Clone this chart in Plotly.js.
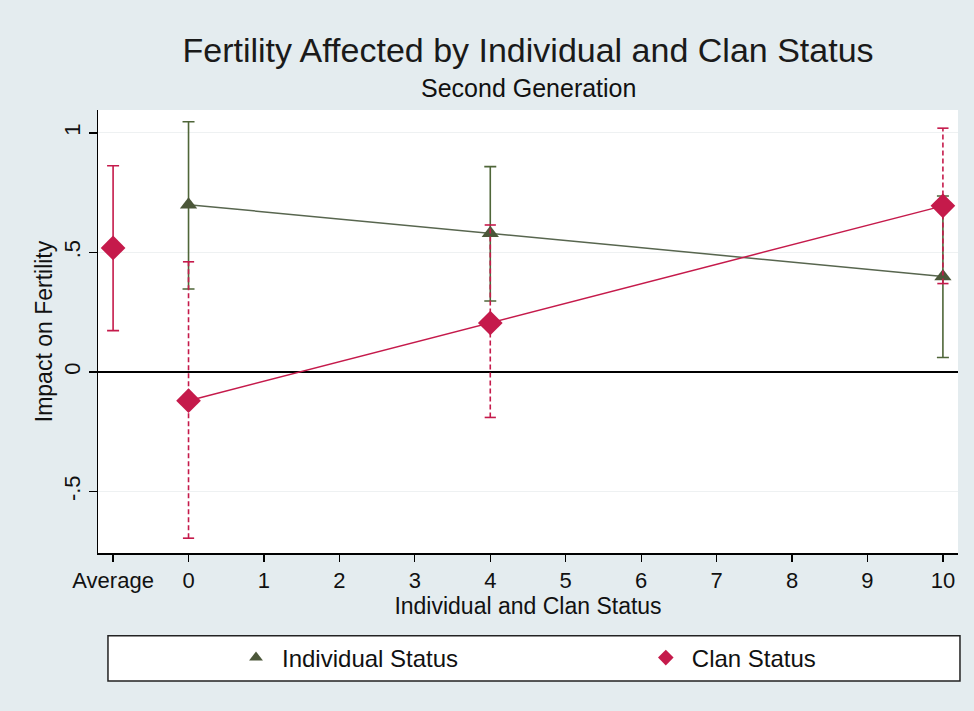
<!DOCTYPE html>
<html>
<head>
<meta charset="utf-8">
<script src="https://cdn.plot.ly/plotly-3.0.1.min.js"></script>
<style>html,body{margin:0;padding:0;background:#e4ecef;}#chart{width:974px;height:711px;}</style>
</head>
<body>
<div id="chart"></div>
<script>
// ---- data ----
const tickValues = [-1, 0, 1, 2, 3, 4, 5, 6, 7, 8, 9, 10];
const tickLabels = ['Average', '0', '1', '2', '3', '4', '5', '6', '7', '8', '9', '10'];
const averagePos = -1;
const statusLevels = [0, 4, 10];
const indivEst = [0.700, 0.580, 0.400];
const indivLo  = [0.347, 0.297, 0.061];
const indivHi  = [1.047, 0.859, 0.736];
const clanEst  = [-0.120, 0.205, 0.695];
const clanLo   = [-0.695, -0.190, 0.370];
const clanHi   = [0.461, 0.615, 1.020];
const avgClanEst = 0.519;
const avgClanLo  = 0.173;
const avgClanHi  = 0.863;

// ---- styles ----
const indivMarker = '#4b5739';
const indivBar = '#4f6639';
const indivLine = '#58664f';
const clanColor = '#c51a4b';
const fontFam = '"Liberation Sans", Arial, Helvetica, sans-serif';

// dashed CI segments for clan status
const dashX = [], dashY = [];
statusLevels.forEach((s, i) => { dashX.push(s, s, null); dashY.push(clanLo[i], clanHi[i], null); });

const traces = [
  { // individual error bars
    x: statusLevels, y: indivEst, type: 'scatter', mode: 'markers',
    marker: {size: 1, color: 'rgba(0,0,0,0)'}, showlegend: false, hoverinfo: 'skip',
    error_y: {type: 'data', symmetric: false,
      array: indivHi.map((h, i) => h - indivEst[i]),
      arrayminus: indivEst.map((e, i) => e - indivLo[i]),
      color: indivBar, thickness: 1.6, width: 6}
  },
  { // individual line
    x: statusLevels, y: indivEst, type: 'scatter', mode: 'lines',
    line: {color: indivLine, width: 1.5}, showlegend: false, hoverinfo: 'skip'
  },
  { // individual markers
    x: statusLevels, y: indivEst, type: 'scatter', mode: 'markers', name: 'Individual Status',
    legend: 'legend',
    marker: {symbol: 'triangle-up', size: 15, color: indivMarker}
  },
  { // clan average solid CI
    x: [averagePos], y: [avgClanEst], type: 'scatter', mode: 'markers',
    marker: {size: 1, color: 'rgba(0,0,0,0)'}, showlegend: false, hoverinfo: 'skip',
    error_y: {type: 'data', symmetric: false, array: [avgClanHi - avgClanEst],
      arrayminus: [avgClanEst - avgClanLo], color: clanColor, thickness: 1.6, width: 6}
  },
  { // clan dashed CIs
    x: dashX, y: dashY, type: 'scatter', mode: 'lines+markers', connectgaps: false,
    line: {color: clanColor, width: 1.6, dash: '5px,3px'},
    marker: {symbol: 'line-ew', size: 8, line: {color: clanColor, width: 1.6}},
    showlegend: false, hoverinfo: 'skip'
  },
  { // clan line
    x: statusLevels, y: clanEst, type: 'scatter', mode: 'lines',
    line: {color: clanColor, width: 1.5}, showlegend: false, hoverinfo: 'skip'
  },
  { // clan markers
    x: [averagePos].concat(statusLevels), y: [avgClanEst].concat(clanEst),
    type: 'scatter', mode: 'markers', name: 'Clan Status', legend: 'legend2',
    marker: {symbol: 'diamond', size: 19, color: clanColor}
  }
];

const legendBase = {orientation: 'h', y: -0.237, yanchor: 'middle', xanchor: 'left',
  bgcolor: 'rgba(0,0,0,0)', borderwidth: 0, font: {size: 24, color: '#111', family: fontFam},
  itemwidth: 42, itemsizing: 'constant'};

const layout = {
  width: 974, height: 711,
  paper_bgcolor: '#e4ecef', plot_bgcolor: '#ffffff',
  margin: {l: 98, r: 16, t: 110, b: 158},
  font: {family: fontFam, color: '#111111'},
  title: {text: 'Fertility Affected by Individual and Clan Status',
    font: {size: 34, color: '#1a1a1a', family: fontFam},
    x: 0.5, xref: 'paper', xanchor: 'center', y: 0.93, yref: 'container', yanchor: 'middle'},
  annotations: [{text: 'Second Generation', xref: 'paper', yref: 'paper', x: 0.5, y: 1.05,
    xanchor: 'center', yanchor: 'middle', showarrow: false, font: {size: 25, color: '#111111'}}],
  xaxis: {range: [-1.2, 10.2], tickvals: tickValues, ticktext: tickLabels,
    showgrid: false, zeroline: false, showline: true, linecolor: '#000', linewidth: 1.5,
    ticks: 'outside', ticklen: 7, tickcolor: '#000', tickwidth: 1.3,
    tickfont: {size: 22}, automargin: false,
    title: {text: 'Individual and Clan Status', font: {size: 23}, standoff: 2}},
  yaxis: {range: [-0.757, 1.096], tickvals: [-0.5, 0, 0.5, 1], ticktext: ['-.5', '0', '.5', '1'],
    tickangle: -90, showgrid: true, gridcolor: '#eef1f2', gridwidth: 1,
    zeroline: true, zerolinecolor: '#000', zerolinewidth: 1.5,
    showline: true, linecolor: '#000', linewidth: 1.5,
    ticks: 'outside', ticklen: 8, tickcolor: '#000', tickwidth: 1.3,
    tickfont: {size: 22}, automargin: false,
    title: {text: 'Impact on Fertility', font: {size: 23}, standoff: 0}},
  legend: Object.assign({x: 0.1535}, legendBase),
  legend2: Object.assign({x: 0.6300}, legendBase),
  shapes: [{type: 'rect', xref: 'paper', yref: 'paper', x0: 0.0116, x1: 1.0023, y0: -0.289, y1: -0.187,
    line: {color: '#222', width: 1.5}, fillcolor: '#ffffff', layer: 'below'}],
  showlegend: true
};

Plotly.newPlot('chart', traces, layout, {displayModeBar: false, staticPlot: true});
</script>
</body>
</html>
